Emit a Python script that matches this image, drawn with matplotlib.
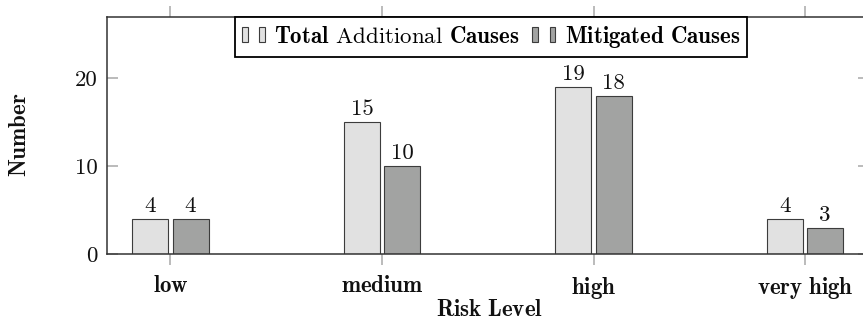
import matplotlib
matplotlib.use('Agg')
import matplotlib.pyplot as plt
from matplotlib.patches import Rectangle
from matplotlib.legend_handler import HandlerTuple
import numpy as np

categories = ['low', 'medium', 'high', 'very high']
total_additional = [4, 15, 19, 4]
mitigated = [4, 10, 18, 3]
yticks = [0, 10, 20]

plt.rcParams['mathtext.fontset'] = 'cm'
plt.rcParams['axes.unicode_minus'] = False
plt.rcParams['font.family'] = ['cmr10', 'DejaVu Sans']


def bold(s):
    return r'$\mathbf{' + s.replace(' ', r'\ ') + '}$'


FS = 16.5
fig = plt.figure(figsize=(8.63, 3.2), dpi=100)
ax = fig.add_axes([107 / 863, 1 - 254 / 320, 761.5 / 863, 237 / 320])

x = np.arange(len(categories))
w = 0.17
off = 0.095
light = '#e1e1e1'
dark = '#a2a3a2'
edge = '#3c3c3c'

b1 = ax.bar(x - off, total_additional, w, color=light, edgecolor=edge, linewidth=0.8)
b2 = ax.bar(x + off, mitigated, w, color=dark, edgecolor=edge, linewidth=0.8)
for bars, vals in ((b1, total_additional), (b2, mitigated)):
    for r, v in zip(bars, vals):
        ax.annotate(str(v), (r.get_x() + r.get_width() / 2, v), xytext=(0, 5),
                    textcoords='offset points', ha='center', va='baseline',
                    fontfamily='cmr10', fontsize=FS, color='#111111')

ax.set_xlim(-0.3, 3.3)
ax.set_ylim(0, 26.93)
ax.set_xticks(x, [bold(c) for c in categories], fontsize=FS)
ax.set_yticks(yticks, [str(v) for v in yticks], fontfamily='cmr10', fontsize=FS)
ax.tick_params(axis='x', direction='out', length=8, width=1.1, color='#a8a8a8',
               top=True, bottom=True, pad=7, labelcolor='#111111')
ax.tick_params(axis='y', direction='in', length=8, width=1.1, color='#a8a8a8',
               left=True, right=True, pad=6.5, labelcolor='#111111')
for s in ax.spines.values():
    s.set_color('#333333')
    s.set_linewidth(1.1)

fig.text(19 / 863, 1 - 135 / 320, bold('Number'), rotation=90, ha='center', va='center',
         fontsize=FS, color='#111111')
fig.text(489 / 863, 1 - 315.5 / 320, bold('Risk Level'), ha='center', va='baseline',
         fontsize=FS, color='#111111')

h1 = (Rectangle((0, 0), 1, 1, facecolor=light, edgecolor=edge, linewidth=0.8),
      Rectangle((0, 0), 1, 1, facecolor=light, edgecolor=edge, linewidth=0.8))
h2 = (Rectangle((0, 0), 1, 1, facecolor=dark, edgecolor=edge, linewidth=0.8),
      Rectangle((0, 0), 1, 1, facecolor=dark, edgecolor=edge, linewidth=0.8))
labels = [r'$\mathbf{Total}$ Additional $\mathbf{Causes}$',
          bold('Mitigated Causes')]
leg = ax.legend([h1, h2], labels, handler_map={tuple: HandlerTuple(ndivide=None, pad=0.5)},
                ncol=2, loc='upper center', bbox_to_anchor=(0.5043, 1.0),
                borderaxespad=0, handlelength=1.0, handleheight=0.62,
                handletextpad=0.4, columnspacing=0.55, fontsize=FS,
                fancybox=False, framealpha=1, edgecolor='black', borderpad=0.3)
leg.get_frame().set_linewidth(1.3)

fig.savefig('out.png', dpi=100)
